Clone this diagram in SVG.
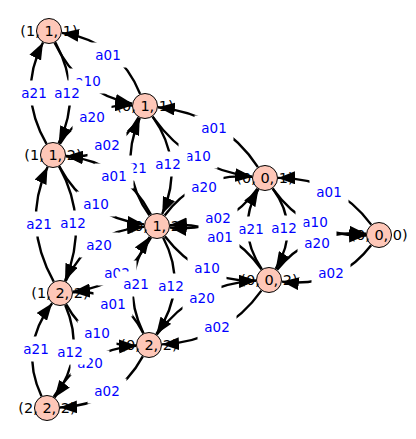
<svg xmlns="http://www.w3.org/2000/svg" width="416" height="439" viewBox="0 0 416 439">
<defs>
<style>
.nc{fill:#fec7b8;stroke:#000;stroke-width:1}
.nt{font-family:"DejaVu Sans",sans-serif;font-size:14.5px;fill:#000;text-anchor:middle}
.e{fill:none;stroke:#000;stroke-width:2.4;marker-end:url(#ah)}
.lb{fill:#fff;stroke:none}
.lt{font-family:"DejaVu Sans",sans-serif;font-size:13.5px;fill:#0000ff;text-anchor:middle}
</style>
<marker id="ah" viewBox="0 0 17 13" refX="17" refY="6.5" markerWidth="17" markerHeight="13" markerUnits="userSpaceOnUse" orient="auto"><path d="M0,0 L17,6.5 L0,13 Z" fill="#000"/></marker>
</defs>
<rect width="416" height="439" fill="#fff"/>
<g id="nodes">
<g id="n111"><circle class="nc" cx="49" cy="31" r="12.5"/><text class="nt" x="49" y="36.3">(1, 1, 1)</text></g>
<g id="n112"><circle class="nc" cx="53" cy="155" r="12.5"/><text class="nt" x="53" y="160.3">(1, 1, 2)</text></g>
<g id="n122"><circle class="nc" cx="60" cy="293" r="12.5"/><text class="nt" x="60" y="298.3">(1, 2, 2)</text></g>
<g id="n222"><circle class="nc" cx="47" cy="408" r="12.5"/><text class="nt" x="47" y="413.3">(2, 2, 2)</text></g>
<g id="n011"><circle class="nc" cx="145" cy="106" r="12.5"/><text class="nt" x="145" y="111.3">(0, 1, 1)</text></g>
<g id="n012"><circle class="nc" cx="157" cy="226" r="12.5"/><text class="nt" x="157" y="231.3">(0, 1, 2)</text></g>
<g id="n022"><circle class="nc" cx="149" cy="345" r="12.5"/><text class="nt" x="149" y="350.3">(0, 2, 2)</text></g>
<g id="n001"><circle class="nc" cx="265" cy="178" r="12.5"/><text class="nt" x="265" y="183.3">(0, 0, 1)</text></g>
<g id="n002"><circle class="nc" cx="269" cy="280" r="12.5"/><text class="nt" x="269" y="285.3">(0, 0, 2)</text></g>
<g id="n000"><circle class="nc" cx="379" cy="235" r="12.5"/><text class="nt" x="379" y="240.3">(0, 0, 0)</text></g>
</g>
<g id="edges">
<path class="e" d="M46.5,143.8 Q17,93 43,42.5"/>
<path class="e" d="M55.3,42.4 Q83,93 58.7,143.3"/>
<path class="e" d="M53.7,281.6 Q21.5,224 47.6,166.8"/>
<path class="e" d="M59.2,166.4 Q89.5,222 65,281"/>
<path class="e" d="M41.5,396.2 Q18.5,347.5 52.1,303.3"/>
<path class="e" d="M65.2,304.9 Q86.5,353.5 54.6,397.5"/>
<path class="e" d="M149.4,215.4 Q117,170 139.8,117.9"/>
<path class="e" d="M152.6,116.6 Q185,162 162.2,214.1"/>
<path class="e" d="M143.4,333.3 Q119,282.5 149.7,236.8"/>
<path class="e" d="M163.1,237.5 Q189,286.5 156.3,334.3"/>
<path class="e" d="M261.8,269.2 Q235,229 258.4,189.2"/>
<path class="e" d="M272.7,188.5 Q301,227 275.7,268.9"/>
<path class="e" d="M140.1,93.9 Q119,41.5 61.9,32.9"/>
<path class="e" d="M54.6,42.7 Q79,93.5 132.2,103.6"/>
<path class="e" d="M150.9,214.5 Q123,161.5 65.9,156.2"/>
<path class="e" d="M59.2,166.4 Q87,217.5 144.1,224.4"/>
<path class="e" d="M143.3,333.3 Q121.5,289 73,292.2"/>
<path class="e" d="M66.2,304.4 Q89.5,347 136,345.4"/>
<path class="e" d="M257.9,167.1 Q223,114 157.9,107.3"/>
<path class="e" d="M152.6,116.6 Q191,170 252.1,176.6"/>
<path class="e" d="M261.5,269.4 Q227,221 170,225.1"/>
<path class="e" d="M164.9,236.3 Q201,283 256,280.6"/>
<path class="e" d="M371.2,224.6 Q336,177.5 278,177.9"/>
<path class="e" d="M272.6,188.5 Q308,237.5 366,235.5"/>
<path class="e" d="M59.9,143.9 Q85,103.5 132,105.5"/>
<path class="e" d="M138.6,117.3 Q115,159.5 66,155.9"/>
<path class="e" d="M65.6,281.2 Q89.5,230.5 144,226.9"/>
<path class="e" d="M151,237.5 Q125.5,286.5 72.9,291.7"/>
<path class="e" d="M53.7,396.8 Q82,349.5 136,345.9"/>
<path class="e" d="M142.8,356.4 Q116,405.5 60,407.5"/>
<path class="e" d="M164.7,215.5 Q197,172 252.1,176.9"/>
<path class="e" d="M257.4,188.6 Q225,234 169.9,227.5"/>
<path class="e" d="M156.8,334.6 Q195,283.5 256,280.6"/>
<path class="e" d="M261.4,290.6 Q225,341.5 162,344.4"/>
<path class="e" d="M277.1,269.8 Q310,228.5 366.1,233.8"/>
<path class="e" d="M371.1,245.3 Q338,288.5 281.9,281.6"/>
</g>
<g id="edge-labels">
<rect class="lb" x="68.5" y="68.5" width="39" height="25"/><text class="lt" x="88" y="85.9">a10</text>
<rect class="lb" x="178.5" y="143.5" width="39" height="25"/><text class="lt" x="198" y="160.9">a10</text>
<rect class="lb" x="70.5" y="350.5" width="39" height="25"/><text class="lt" x="90" y="367.9">a20</text>
<rect class="lb" x="97.5" y="260.5" width="39" height="25"/><text class="lt" x="117" y="277.9">a02</text>
<rect class="lb" x="295.5" y="209.5" width="39" height="25"/><text class="lt" x="315" y="226.9">a10</text>
<rect class="lb" x="114.5" y="155.5" width="39" height="25"/><text class="lt" x="134" y="172.9">a21</text>
<rect class="lb" x="231.5" y="216.5" width="39" height="25"/><text class="lt" x="251" y="233.9">a21</text>
<rect class="lb" x="88.5" y="42.5" width="39" height="25"/><text class="lt" x="108" y="59.9">a01</text>
<rect class="lb" x="14.5" y="80.5" width="39" height="25"/><text class="lt" x="34" y="97.9">a21</text>
<rect class="lb" x="19.5" y="211.5" width="39" height="25"/><text class="lt" x="39" y="228.9">a21</text>
<rect class="lb" x="53.5" y="210.5" width="39" height="25"/><text class="lt" x="73" y="227.9">a12</text>
<rect class="lb" x="16.5" y="336.5" width="39" height="25"/><text class="lt" x="36" y="353.9">a21</text>
<rect class="lb" x="76.5" y="191.5" width="39" height="25"/><text class="lt" x="96" y="208.9">a10</text>
<rect class="lb" x="93.5" y="291.5" width="39" height="25"/><text class="lt" x="113" y="308.9">a01</text>
<rect class="lb" x="77.5" y="320.5" width="39" height="25"/><text class="lt" x="97" y="337.9">a10</text>
<rect class="lb" x="194.5" y="115.5" width="39" height="25"/><text class="lt" x="214" y="132.9">a01</text>
<rect class="lb" x="187.5" y="255.5" width="39" height="25"/><text class="lt" x="207" y="272.9">a10</text>
<rect class="lb" x="309.5" y="179.5" width="39" height="25"/><text class="lt" x="329" y="196.9">a01</text>
<rect class="lb" x="72.5" y="104.5" width="39" height="25"/><text class="lt" x="92" y="121.9">a20</text>
<rect class="lb" x="87.5" y="132.5" width="39" height="25"/><text class="lt" x="107" y="149.9">a02</text>
<rect class="lb" x="79.5" y="232.5" width="39" height="25"/><text class="lt" x="99" y="249.9">a20</text>
<rect class="lb" x="87.5" y="378.5" width="39" height="25"/><text class="lt" x="107" y="395.9">a02</text>
<rect class="lb" x="184.5" y="174.5" width="39" height="25"/><text class="lt" x="204" y="191.9">a20</text>
<rect class="lb" x="198.5" y="205.5" width="39" height="25"/><text class="lt" x="218" y="222.9">a02</text>
<rect class="lb" x="182.5" y="285.5" width="39" height="25"/><text class="lt" x="202" y="302.9">a20</text>
<rect class="lb" x="197.5" y="314.5" width="39" height="25"/><text class="lt" x="217" y="331.9">a02</text>
<rect class="lb" x="297.5" y="230.5" width="39" height="25"/><text class="lt" x="317" y="247.9">a20</text>
<rect class="lb" x="311.5" y="260.5" width="39" height="25"/><text class="lt" x="331" y="277.9">a02</text>
<rect class="lb" x="47.5" y="80.5" width="39" height="25"/><text class="lt" x="67" y="97.9">a12</text>
<rect class="lb" x="148.5" y="151.5" width="39" height="25"/><text class="lt" x="168" y="168.9">a12</text>
<rect class="lb" x="50.5" y="339.5" width="39" height="25"/><text class="lt" x="70" y="356.9">a12</text>
<rect class="lb" x="116.5" y="271.5" width="39" height="25"/><text class="lt" x="136" y="288.9">a21</text>
<rect class="lb" x="151.5" y="273.5" width="39" height="25"/><text class="lt" x="171" y="290.9">a12</text>
<rect class="lb" x="264.5" y="215.5" width="39" height="25"/><text class="lt" x="284" y="232.9">a12</text>
<rect class="lb" x="94.5" y="163.5" width="39" height="25"/><text class="lt" x="114" y="180.9">a01</text>
<rect class="lb" x="200.5" y="224.5" width="39" height="25"/><text class="lt" x="220" y="241.9">a01</text>
</g>
</svg>
